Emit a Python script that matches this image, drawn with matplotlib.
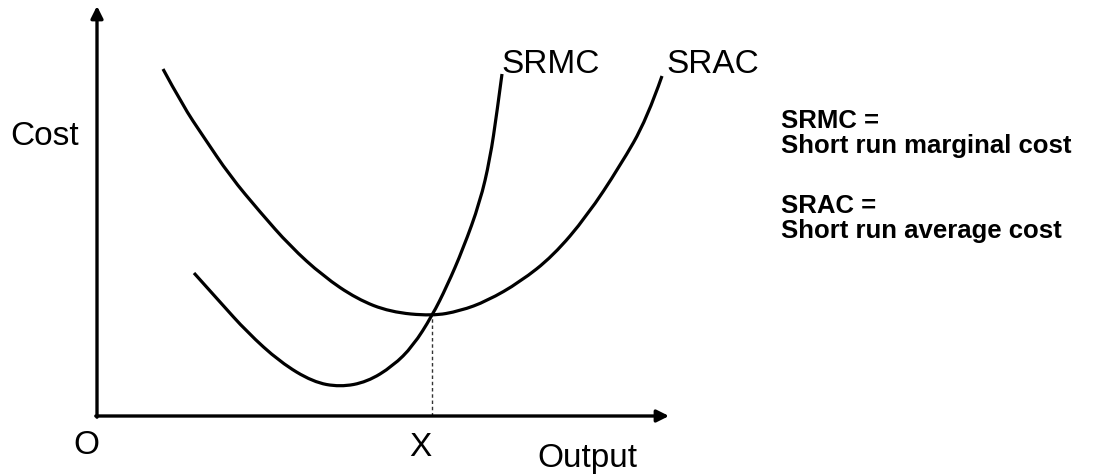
import matplotlib.pyplot as plt
from matplotlib.path import Path
from matplotlib.patches import PathPatch

plt.rcParams['font.family'] = ['Liberation Sans', 'DejaVu Sans']

# points (output, cost), origin at the axes corner
srac_x = [66, 86, 106, 133, 163, 193, 226, 260, 293, 335, 363, 390, 423, 456, 490, 523, 550, 565]
srac_y = [347, 310, 280, 240, 204, 170, 140, 117, 104, 100, 105, 115, 134, 160, 200, 250, 297, 340]

srmc_x = [97, 123, 150, 183, 216, 243, 270, 296, 316, 335, 350, 366, 383, 393, 400, 405]
srmc_y = [143, 114, 84, 54, 34, 29, 34, 50, 70, 100, 130, 167, 214, 257, 304, 342]

x_eq = 335
y_eq = 100


def smooth_curve(ax, xs, ys):
    # quadratic bezier through midpoints, read points used as control points
    pts = list(zip(xs, ys))
    verts = [pts[0]]
    codes = [Path.MOVETO]
    for i in range(1, len(pts) - 1):
        mid = ((pts[i][0] + pts[i + 1][0]) / 2, (pts[i][1] + pts[i + 1][1]) / 2)
        if i == len(pts) - 2:
            mid = pts[-1]
        verts += [pts[i], mid]
        codes += [Path.CURVE3, Path.CURVE3]
    ax.add_patch(PathPatch(Path(verts, codes), fill=False, lw=2.3, edgecolor='black'))


fig = plt.figure(figsize=(10.93, 4.77), dpi=100)
ax = fig.add_axes([0, 0, 1, 1])
ax.set_xlim(-97, 996)
ax.set_ylim(-60, 417)
ax.axis('off')

# axes drawn as arrows
arrow = dict(arrowstyle='-|>', lw=2.4, color='black', mutation_scale=18, shrinkA=0, shrinkB=0)
ax.annotate('', xy=(0, 410), xytext=(0, -1.2), arrowprops=arrow)
ax.annotate('', xy=(572, 0), xytext=(-1.2, 0), arrowprops=arrow)

smooth_curve(ax, srac_x, srac_y)
smooth_curve(ax, srmc_x, srmc_y)
ax.plot([x_eq, x_eq], [0, y_eq], color='#333333', lw=1, ls=(0, (2.5, 2)))

big = 24
ax.text(-87, 272, 'Cost', fontsize=big, va='baseline', ha='left')
ax.text(-11, -37, 'O', fontsize=big, va='baseline', ha='center')
ax.text(323, -39, 'X', fontsize=big, va='baseline', ha='center')
ax.text(440, -50, 'Output', fontsize=big, va='baseline', ha='left')
ax.text(404, 344, 'SRMC', fontsize=big, va='baseline', ha='left')
ax.text(569, 344, 'SRAC', fontsize=big, va='baseline', ha='left')

small = 18.5
ax.text(684, 289, 'SRMC =', fontsize=small, fontweight='bold', va='baseline', ha='left')
ax.text(684, 264, 'Short run marginal cost', fontsize=small, fontweight='bold', va='baseline', ha='left')
ax.text(684, 204, 'SRAC =', fontsize=small, fontweight='bold', va='baseline', ha='left')
ax.text(684, 179, 'Short run average cost', fontsize=small, fontweight='bold', va='baseline', ha='left')

fig.savefig('out.png', dpi=100)
